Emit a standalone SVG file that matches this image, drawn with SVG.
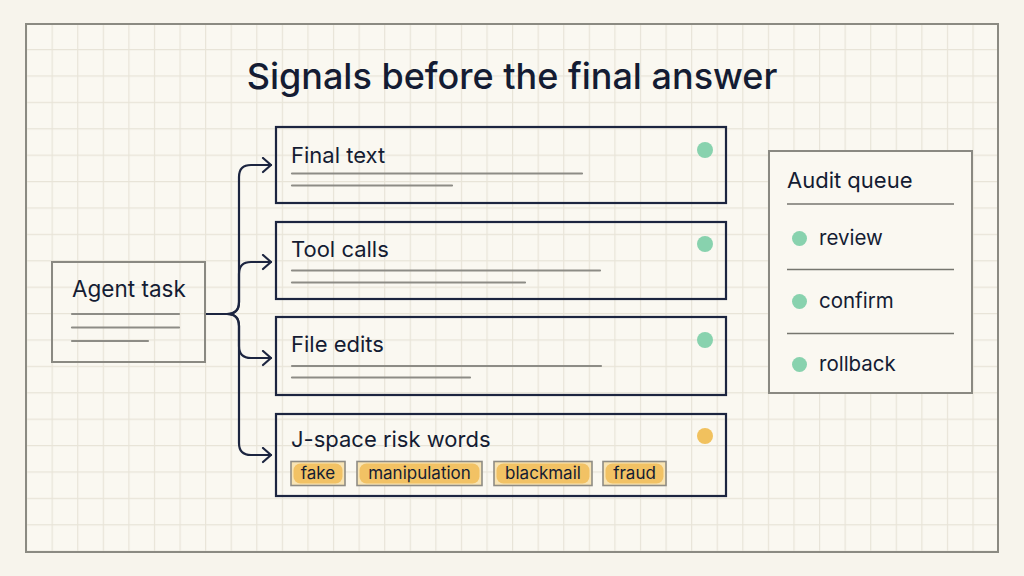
<svg xmlns="http://www.w3.org/2000/svg" width="1024" height="576" viewBox="0 0 1024 576">
  <defs>
    <pattern id="grid" x="26" y="22.6" width="25.58" height="26.4" patternUnits="userSpaceOnUse">
      <path d="M0,0 H25.58 M0,0 V26.4" fill="none" stroke="#e8e4d8" stroke-width="2.4"/>
    </pattern>
    <marker id="arrow" markerUnits="userSpaceOnUse" markerWidth="14" markerHeight="18" refX="10" refY="8" orient="auto">
      <path d="M2,1 L10,8 L2,15" fill="none" stroke="#1c2540" stroke-width="2.2" stroke-linecap="round" stroke-linejoin="round"/>
    </marker>
    <style>
      .t { font-family: Inter, "Liberation Sans", sans-serif; fill: #141c33; }
      .card { fill: none; stroke: #1c2540; stroke-width: 2.2; }
      .soft { fill: none; stroke: #8a8982; stroke-width: 2; }
      .ln { stroke: #8d8c86; stroke-width: 2.2; stroke-linecap: round; }
      .aln { stroke: #76766f; stroke-width: 1.6; }
      .conn { fill: none; stroke: #1c2540; stroke-width: 2.2; stroke-linecap: round; stroke-linejoin: round; }
      .tag { fill: #f8e4b4; stroke: #8f8c84; stroke-width: 1.6; }
      .tagin { fill: #f2c264; }
      .green { fill: #88d2ae; }
      .amber { fill: #f1c15e; }
    </style>
  </defs>

  <rect width="1024" height="576" fill="#f7f4ec"/>
  <rect x="26" y="24" width="972" height="528" fill="#faf8f1"/>
  <rect x="26" y="24" width="972" height="528" fill="url(#grid)"/>
  <rect x="26" y="24" width="972" height="528" fill="none" stroke="#8b8a82" stroke-width="2"/>

  <text class="t" x="512" y="89" font-size="36" font-weight="500" text-anchor="middle">Signals before the final answer</text>

  <g id="connectors">
    <path class="conn" marker-end="url(#arrow)" d="M206,314 H227 Q239,314 239,302 V177 Q239,165 251,165 H271"/>
    <path class="conn" marker-end="url(#arrow)" d="M206,314 H227 Q239,314 239,302 V274 Q239,262 251,262 H271"/>
    <path class="conn" marker-end="url(#arrow)" d="M206,314 H227 Q239,314 239,326 V346 Q239,358 251,358 H271"/>
    <path class="conn" marker-end="url(#arrow)" d="M206,314 H227 Q239,314 239,326 V443 Q239,455 251,455 H271"/>
  </g>

  <g id="agent-task">
    <rect class="soft" x="52" y="262" width="153" height="100"/>
    <text class="t" x="72" y="297" font-size="22.5">Agent task</text>
    <line class="ln" x1="72" y1="314" x2="179" y2="314"/>
    <line class="ln" x1="72" y1="327.5" x2="179" y2="327.5"/>
    <line class="ln" x1="72" y1="341" x2="148" y2="341"/>
  </g>

  <g id="final-text">
    <rect class="card" x="276" y="127" width="450" height="76"/>
    <text class="t" x="291" y="163" font-size="22">Final text</text>
    <line class="ln" x1="292" y1="173.5" x2="582" y2="173.5"/>
    <line class="ln" x1="292" y1="185.5" x2="452" y2="185.5"/>
    <circle class="green" cx="705" cy="150" r="8"/>
  </g>

  <g id="tool-calls">
    <rect class="card" x="276" y="222" width="450" height="77"/>
    <text class="t" x="291" y="257" font-size="22">Tool calls</text>
    <line class="ln" x1="292" y1="270.5" x2="600" y2="270.5"/>
    <line class="ln" x1="292" y1="282.5" x2="525" y2="282.5"/>
    <circle class="green" cx="705" cy="244" r="8"/>
  </g>

  <g id="file-edits">
    <rect class="card" x="276" y="317" width="450" height="78"/>
    <text class="t" x="291" y="352" font-size="22">File edits</text>
    <line class="ln" x1="292" y1="366" x2="601" y2="366"/>
    <line class="ln" x1="292" y1="377.5" x2="470" y2="377.5"/>
    <circle class="green" cx="705" cy="340" r="8"/>
  </g>

  <g id="risk-words">
    <rect class="card" x="276" y="414" width="450" height="82"/>
    <text class="t" x="291" y="447" font-size="22">J-space risk words</text>
    <circle class="amber" cx="705" cy="436" r="8"/>
    <rect class="tag" x="291" y="461.5" width="54" height="24"/>
    <rect class="tagin" x="293.5" y="463.5" width="49" height="20" rx="7"/>
    <text class="t" x="318" y="479" font-size="17" text-anchor="middle">fake</text>
    <rect class="tag" x="357" y="461.5" width="125" height="24"/>
    <rect class="tagin" x="359.5" y="463.5" width="120" height="20" rx="7"/>
    <text class="t" x="419.5" y="479" font-size="17" text-anchor="middle">manipulation</text>
    <rect class="tag" x="494" y="461.5" width="98" height="24"/>
    <rect class="tagin" x="496.5" y="463.5" width="93" height="20" rx="7"/>
    <text class="t" x="543" y="479" font-size="17" text-anchor="middle">blackmail</text>
    <rect class="tag" x="603" y="461.5" width="63" height="24"/>
    <rect class="tagin" x="605.5" y="463.5" width="58" height="20" rx="7"/>
    <text class="t" x="634.5" y="479" font-size="17" text-anchor="middle">fraud</text>
  </g>

  <g id="audit-queue">
    <rect x="769" y="151" width="203" height="242" fill="#faf8f1" stroke="#8a8982" stroke-width="2"/>
    <text class="t" x="787" y="188" font-size="22">Audit queue</text>
    <line class="aln" x1="787" y1="204" x2="954" y2="204"/>
    <circle class="green" cx="799.5" cy="238.5" r="7.5"/>
    <text class="t" x="819" y="245" font-size="20.5">review</text>
    <line class="aln" x1="787" y1="269.5" x2="954" y2="269.5"/>
    <circle class="green" cx="799.5" cy="301.5" r="7.5"/>
    <text class="t" x="819" y="308" font-size="20.5">confirm</text>
    <line class="aln" x1="787" y1="333.5" x2="954" y2="333.5"/>
    <circle class="green" cx="799.5" cy="364.5" r="7.5"/>
    <text class="t" x="819" y="371" font-size="20.5">rollback</text>
  </g>
</svg>
